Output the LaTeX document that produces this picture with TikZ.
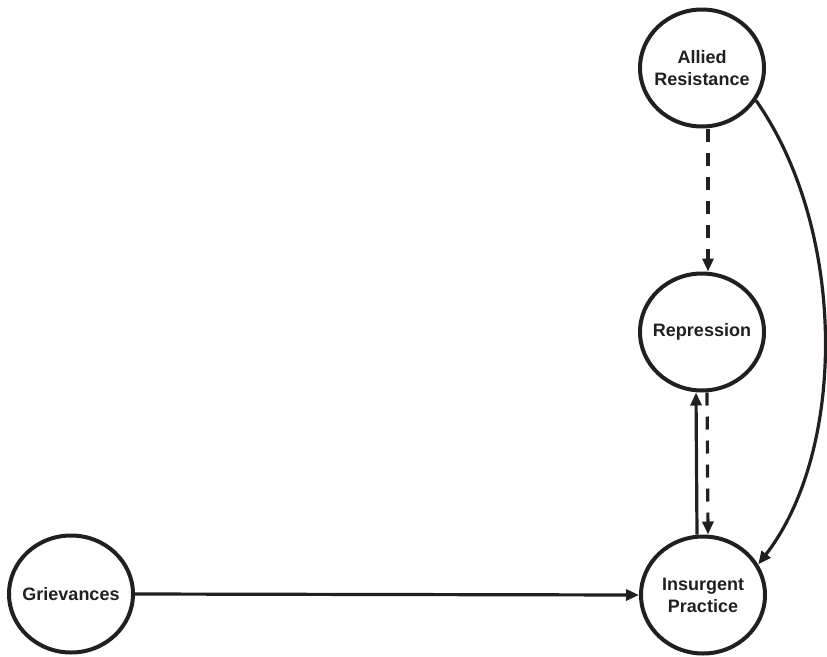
\documentclass[tikz,border=0pt]{standalone}
\usepackage{fontspec}
\setmainfont{Liberation Sans}
\usetikzlibrary{arrows.meta,shapes.geometric}
\definecolor{ink}{RGB}{35,31,32}
\begin{document}
\begin{tikzpicture}[x=1pt,y=-1pt,
  var/.style={ellipse,draw=ink,line width=4pt,minimum width=124pt,minimum height=117pt,inner xsep=-18pt,inner ysep=-6pt,align=center,font=\fontsize{18}{22}\selectfont\bfseries,text=ink},
  link/.style={draw=ink,line width=3.2pt,-{Triangle[length=13pt,width=11pt,fill=ink]}},
  dlink/.style={link,dash pattern=on 13pt off 11pt}]
\useasboundingbox (0,0) rectangle (827,656);
\node[var] (allied) at (702,68) {Allied\\Resistance};
\node[var] (repr) at (702,332) {Repression};
\node[var] (insurg) at (703,595) {Insurgent\\Practice};
\node[var] (griev) at (71,594) {Grievances};
\draw[link] (griev.east) -- (insurg.west);
\draw[dlink] ([xshift=6pt]allied.south) -- ([xshift=6pt]repr.north);
\draw[link] ([xshift=-6pt]insurg.north) -- ([xshift=-6pt]repr.south);
\draw[dlink] ([xshift=5pt]repr.south) -- ([xshift=5pt]insurg.north);
\draw[link] (allied.-31) .. controls (847,230) and (847,450) .. (insurg.29);
\end{tikzpicture}
\end{document}
